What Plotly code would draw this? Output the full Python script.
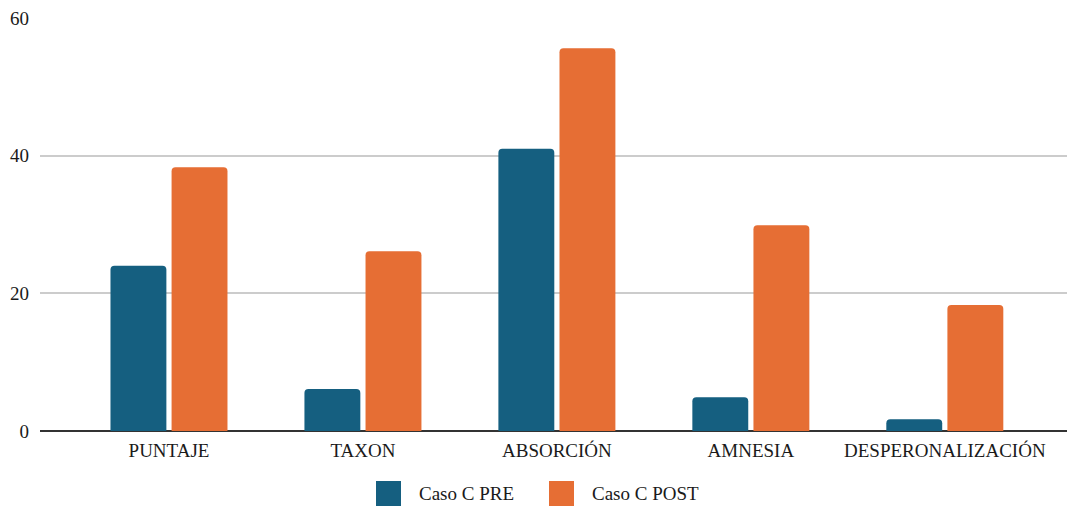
import plotly.graph_objects as go

# Category labels and values for the two measurements
categories = ["PUNTAJE", "TAXON", "ABSORCIÓN", "AMNESIA", "DESPERONALIZACIÓN"]
pre_values = [24.0, 6.1, 41.0, 4.9, 1.7]
post_values = [38.3, 26.1, 55.6, 29.9, 18.3]
series_names = ["Caso C PRE", "Caso C POST"]
series_colors = ["#155f80", "#e66e34"]
y_ticks = [0, 20, 40, 60]

FONT = "Liberation Serif"
TEXT_COLOR = "#1a1a1a"
FS = 19

fig = go.Figure()
for name, vals, color in zip(series_names, [pre_values, post_values], series_colors):
    fig.add_trace(go.Bar(
        x=categories, y=vals, name=name,
        marker=dict(color=color, line=dict(width=0), cornerradius=4),
        showlegend=False,
    ))

W, H = 1067, 509
ml, mr, mt, mb = 40, 0, 18, 78
pw, ph = W - ml - mr, H - mt - mb

def px_to_paper_x(px):
    return (px - ml) / pw

def px_to_paper_y(py):
    return (H - mb - py) / ph

# Legend below the plot: square swatches with labels
legend_items = [(series_names[0], series_colors[0], 376), (series_names[1], series_colors[1], 549)]
for name, color, x0 in legend_items:
    fig.add_shape(type="rect", xref="paper", yref="paper",
                  x0=px_to_paper_x(x0), x1=px_to_paper_x(x0 + 25),
                  y0=px_to_paper_y(506), y1=px_to_paper_y(481),
                  fillcolor=color, line=dict(width=0), layer="above")
    fig.add_annotation(text=name, xref="paper", yref="paper",
                       x=px_to_paper_x(x0 + 41), y=px_to_paper_y(493.5),
                       xanchor="left", yanchor="middle", showarrow=False,
                       font=dict(family=FONT, size=FS, color=TEXT_COLOR))

fig.update_layout(
    width=W, height=H,
    margin=dict(l=ml, r=mr, t=mt, b=mb, pad=0),
    paper_bgcolor="white", plot_bgcolor="white",
    barmode="group", bargap=0.37, bargroupgap=0.085,
    font=dict(family=FONT, size=FS, color=TEXT_COLOR),
    xaxis=dict(
        range=[-0.665, 4.63], showgrid=False, ticks="", showline=False,
        ticklabelstandoff=6,
        tickfont=dict(family=FONT, size=FS, color=TEXT_COLOR),
    ),
    yaxis=dict(
        range=[0, 60], tickvals=y_ticks, showgrid=True, gridcolor="#cccccc",
        gridwidth=2, zeroline=True, zerolinecolor="#333333", zerolinewidth=2,
        ticks="", showline=False, ticklabelstandoff=10,
        tickfont=dict(family=FONT, size=FS, color=TEXT_COLOR),
    ),
)

fig.write_html("out.html")
